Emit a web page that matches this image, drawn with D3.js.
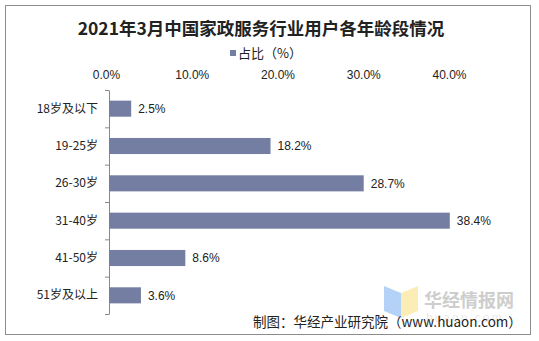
<!DOCTYPE html>
<html>
<head>
<meta charset="utf-8">
<script src="https://cdn.jsdelivr.net/npm/d3@7"></script>
<style>
    body { margin: 0; background: #fff; }
    text { font-family: "Liberation Sans", Arial, "Noto Sans CJK SC", sans-serif; }
</style>
</head>
<body>
<div id="chart"></div>
<script>
// data
const categories = ["18岁及以下", "19-25岁", "26-30岁", "31-40岁", "41-50岁", "51岁及以上"];
const shares = [2.5, 18.2, 28.7, 38.4, 8.6, 3.6];
const tickValues = [0, 10, 20, 30, 40];

const width = 539, height = 341;
const barColor = "#737ea2";

let svg = d3.select("#chart")
    .append("svg")
    .attr("width", width)
    .attr("height", height);

// outer frame
svg.append("rect")
    .attr("x", 5.5).attr("y", 5.5)
    .attr("width", 525).attr("height", 329)
    .attr("fill", "#fff")
    .attr("stroke", "#8c8c8c");

// title
svg.append("text")
    .attr("x", 261).attr("y", 35)
    .attr("text-anchor", "middle")
    .style("font-family", "'Noto Sans CJK SC', sans-serif")
    .style("font-weight", "bold")
    .style("font-size", "17.5px")
    .attr("fill", "#222")
    .text("2021年3月中国家政服务行业用户各年龄段情况");

// legend
svg.append("rect")
    .attr("x", 230).attr("y", 50)
    .attr("width", 6).attr("height", 6)
    .attr("fill", barColor);
svg.append("text")
    .attr("x", 238).attr("y", 58)
    .style("font-family", "'Noto Sans CJK SC', sans-serif")
    .style("font-size", "13px")
    .attr("fill", "#222")
    .text("占比（%）");

// scales
let x = d3.scaleLinear().domain([0, 40]).range([109, 464]);
// the tick labels in the original sit slightly off the bar scale
let xTick = d3.scaleLinear().domain([0, 40]).range([106, 449]);
let y = d3.scaleBand().domain(categories).range([90, 314]).paddingInner(0.57).paddingOuter(0.285);

// top tick labels (no line)
let topAxis = svg.append("g")
    .attr("transform", "translate(0,82)")
    .call(d3.axisTop(xTick).tickValues(tickValues).tickFormat(d => d.toFixed(1) + "%").tickSize(0));
topAxis.select(".domain").remove();
topAxis.selectAll("text")
    .style("font-size", "12px")
    .attr("fill", "#222");

// left axis
let leftAxis = svg.append("g")
    .attr("transform", "translate(109,0)")
    .call(d3.axisLeft(y).tickSize(0).tickPadding(11));
leftAxis.select(".domain").attr("stroke", "#888");
leftAxis.selectAll("text")
    .style("font-family", "'Noto Sans CJK SC', sans-serif")
    .style("font-size", "12px")
    .attr("fill", "#222");

// tick marks between categories
let bounds = d3.range(categories.length + 1).map(i => 90 + i * (224 / categories.length));
svg.append("g").selectAll("line")
    .data(bounds)
    .enter()
    .append("line")
    .attr("x1", 105).attr("x2", 109)
    .attr("y1", d => d + 0.5).attr("y2", d => d + 0.5)
    .attr("stroke", "#888");

// bars
svg.append("g").selectAll("rect")
    .data(shares)
    .enter()
    .append("rect")
    .attr("x", x(0))
    .attr("y", (d, i) => y(categories[i]))
    .attr("width", d => x(d) - x(0))
    .attr("height", y.bandwidth())
    .attr("fill", barColor);

// value labels
svg.append("g").selectAll("text")
    .data(shares)
    .enter()
    .append("text")
    .attr("x", d => x(d) + 7)
    .attr("y", (d, i) => y(categories[i]) + y.bandwidth() / 2)
    .attr("dy", "0.35em")
    .style("font-size", "12px")
    .attr("fill", "#222")
    .text(d => d.toFixed(1) + "%");

// watermark
let wm = svg.append("g").attr("opacity", 0.75);
wm.append("polygon")
    .attr("points", "384,286 401,293 401,318 384,311")
    .attr("fill", "#9cc3f5");
wm.append("polygon")
    .attr("points", "401,293 418,286 418,311 401,318")
    .attr("fill", "#fbe8a0");
wm.append("text")
    .attr("x", 424).attr("y", 307)
    .style("font-family", "'Noto Sans CJK SC', sans-serif")
    .style("font-weight", "bold")
    .style("font-size", "18px")
    .attr("fill", "#bdbdbd")
    .text("华经情报网");
wm.append("text")
    .attr("x", 426).attr("y", 322)
    .style("font-size", "12px")
    .attr("fill", "#e4e4e4")
    .attr("letter-spacing", "2px")
    .text("huaon.com");

// source note
svg.append("text")
    .attr("x", 253).attr("y", 327)
    .style("font-family", "'Noto Sans CJK SC', sans-serif")
    .style("font-size", "13.5px")
    .attr("fill", "#222")
    .text("制图：华经产业研究院（www.huaon.com）");
</script>
</body>
</html>
